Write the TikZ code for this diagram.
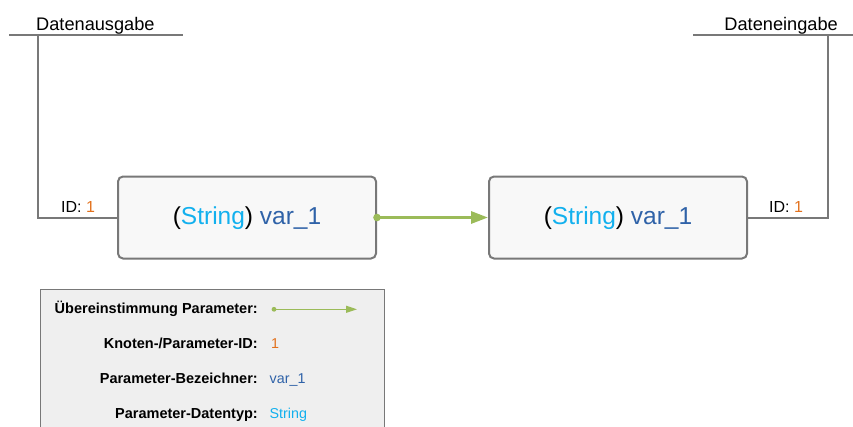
\documentclass[tikz,border=0pt]{standalone}
\usepackage{fontspec}
\setmainfont{Liberation Sans}
\usetikzlibrary{arrows.meta}
\definecolor{linegray}{HTML}{787878}
\definecolor{boxfill}{HTML}{F8F8F8}
\definecolor{legendfill}{HTML}{EFEFEF}
\definecolor{typeblue}{HTML}{12B0EE}
\definecolor{namebox}{HTML}{2F62A8}
\definecolor{idorange}{HTML}{E2711D}
\definecolor{matchgreen}{HTML}{9BBB59}
\begin{document}
\begin{tikzpicture}[x=1pt,y=-1pt,
  wire/.style={draw=linegray,line width=2pt},
  parambox/.style={draw=linegray,line width=2pt,fill=boxfill,rounded corners=5pt,
    minimum width=258pt,minimum height=82pt,inner sep=0pt},
  boxtext/.style={inner sep=0pt,anchor=base,font=\fontsize{24.5}{28}\selectfont},
  header/.style={inner sep=0pt,font=\fontsize{18.2}{21}\selectfont},
  idlabel/.style={inner sep=0pt,anchor=base west,font=\fontsize{16}{19}\selectfont},
  legkey/.style={inner sep=0pt,anchor=base east,font=\fontsize{14.5}{17}\selectfont\bfseries},
  legval/.style={inner sep=0pt,anchor=base west,font=\fontsize{14.3}{17}\selectfont},
  match/.style={draw=matchgreen,line width=3pt,-{Triangle[length=17pt,width=12pt]}},
  legmatch/.style={draw=matchgreen,line width=1.3pt,-{Triangle[length=11pt,width=7pt]}}
]
\useasboundingbox (0,0) rectangle (853,426);

% headers
\node[header,anchor=base west] (outhead) at (36,30) {Datenausgabe};
\node[header,anchor=base east] (inhead) at (838,30) {Dateneingabe};

% parameter boxes
\node[parambox] (src) at (247,217.5) {};
\node[parambox] (dst) at (618,217.5) {};
\node[boxtext] (srctext) at (247,224.5) {(\textcolor{typeblue}{String}) \textcolor{namebox}{var\_1}};
\node[boxtext] (dsttext) at (618,224.5) {(\textcolor{typeblue}{String}) \textcolor{namebox}{var\_1}};

% output side wiring
\coordinate (outL) at (9,35);
\coordinate (outR) at (183,35);
\coordinate (outV) at (37.5,35);
\draw[wire] (outL) -- (outR);
\draw[wire,line join=miter] (outV) |- (src.west);

% input side wiring
\coordinate (inL) at (693,35);
\coordinate (inR) at (853,35);
\coordinate (inV) at (827.5,35);
\draw[wire] (inL) -- (inR);
\draw[wire,line join=miter] (dst.east) -| (inV);

% id labels
\node[idlabel] (srcid) at (61,212) {ID: \textcolor{idorange}{1}};
\node[idlabel] (dstid) at (769,212) {ID: \textcolor{idorange}{1}};

% match connector
\draw[match] (src.east) -- (dst.west);
\fill[matchgreen] (src.east) circle (3.8pt);

% legend
\begin{scope}
\clip (0,0) rectangle (853,426);
\draw[draw=linegray,line width=1.5pt,fill=legendfill] (40.5,289.5) rectangle (384.5,440);
\end{scope}
\node[legkey] (k1) at (258,313.3) {Übereinstimmung Parameter:};
\node[legkey] (k2) at (258,348.3) {Knoten-/Parameter-ID:};
\node[legkey] (k3) at (258,383.6) {Parameter-Bezeichner:};
\node[legkey] (k4) at (258,418.3) {Parameter-Datentyp:};
\coordinate (la) at (274,309.3);
\coordinate (lb) at (357,309.3);
\draw[legmatch] (la) -- (lb);
\fill[matchgreen] (la) circle (2.4pt);
\node[legval,text=idorange] (v2) at (271,348.3) {1};
\node[legval,text=namebox] (v3) at (269.5,383.6) {var\_1};
\node[legval,text=typeblue] (v4) at (269.5,418.3) {String};
\end{tikzpicture}
\end{document}
